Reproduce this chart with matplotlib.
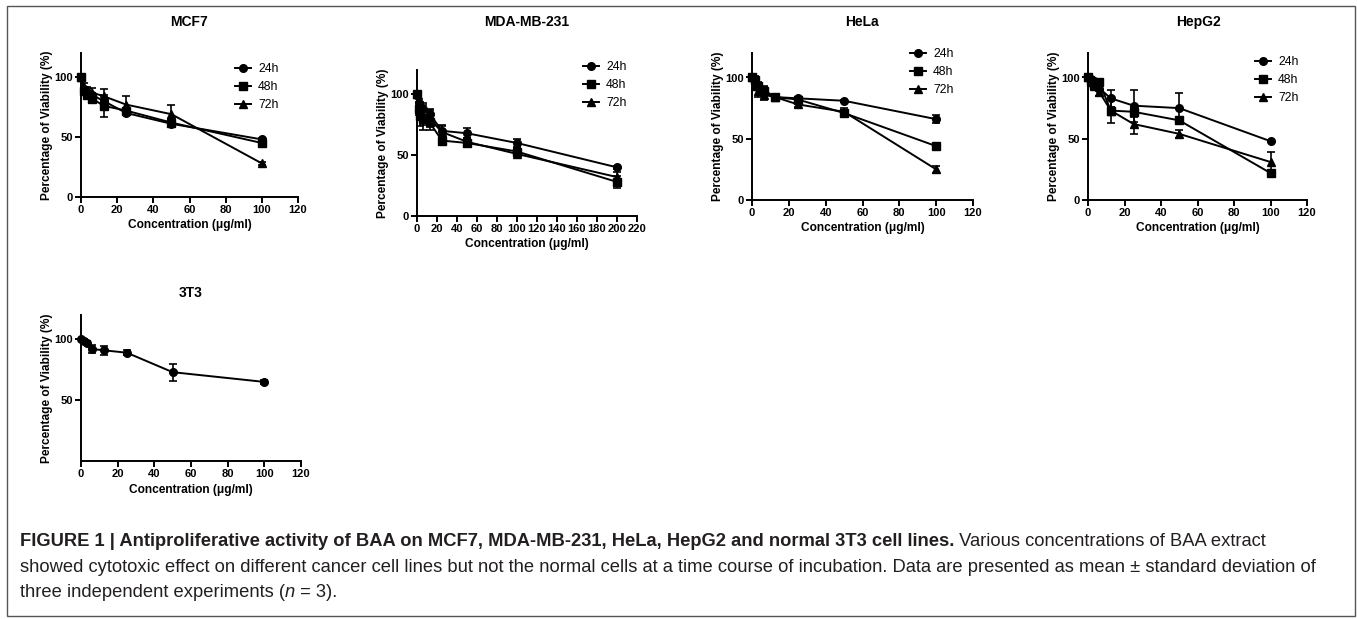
import matplotlib
matplotlib.use("Agg")
import matplotlib.pyplot as plt
from matplotlib.patches import FancyBboxPatch
from matplotlib.lines import Line2D
import numpy as np

plt.rcParams['font.family'] = ['Liberation Sans', 'DejaVu Sans']

W, H = 1357, 619

# ---------------- data ----------------
conc = [0, 1.5625, 3.125, 6.25, 12.5, 25, 50, 100]
conc_mda = [0, 1.5625, 3.125, 6.25, 12.5, 25, 50, 100, 200]

mcf7_24 = [100, 90, 87, 85, 80, 70, 61, 48]
mcf7_24_err = [0, 2, 3, 2, 3, 2, 2, 1]
mcf7_48 = [100, 88, 85, 82, 76, 72, 62, 45]
mcf7_48_err = [0, 3, 3, 3, 9, 2, 3, 3]
mcf7_72 = [100, 92, 89, 87, 84, 77, 69, 28]
mcf7_72_err = [0, 3, 3, 4, 6, 7, 8, 1]

mda_24 = [100, 93, 90, 88, 84, 70, 68, 60, 40]
mda_24_err = [0, 3, 4, 5, 4, 5, 4, 3, 1]
mda_48 = [100, 88, 82, 80, 77, 62, 60, 53, 28]
mda_48_err = [0, 5, 8, 9, 6, 3, 3, 3, 5]
mda_72 = [100, 90, 85, 83, 80, 69, 61, 51, 32]
mda_72_err = [0, 4, 6, 8, 7, 5, 3, 2, 4]

hela_24 = [100, 97, 93, 90, 84, 83, 81, 66]
hela_24_err = [0, 2, 2, 2, 1, 1, 1, 3]
hela_48 = [100, 98, 93, 89, 84, 82, 71, 44]
hela_48_err = [0, 3, 3, 4, 1, 1, 2, 1]
hela_72 = [100, 93, 89, 86, 84, 78, 72, 25]
hela_72_err = [0, 3, 5, 4, 1, 2, 3, 3]

hepg2_24 = [100, 99, 97, 91, 83, 77, 75, 48]
hepg2_24_err = [0, 1, 1, 2, 7, 13, 12, 1]
hepg2_48 = [100, 97, 94, 96, 73, 72, 65, 22]
hepg2_48_err = [0, 2, 2, 2, 3, 4, 2, 1]
hepg2_72 = [100, 96, 93, 88, 73, 62, 54, 31]
hepg2_72_err = [0, 2, 2, 3, 10, 8, 3, 8]

t3_conc = [0, 1.5625, 3.125, 6.25, 12.5, 25, 50, 100]
t3_vals = [100, 99, 97, 92, 91, 89, 73, 65]
t3_err = [0, 1, 2, 3.5, 3.5, 2, 7, 1.5]

series_labels = ["24h", "48h", "72h"]
markers = ["o", "s", "^"]

fig = plt.figure(figsize=(W / 100, H / 100), dpi=100)

LBL = 8.6
TICK = 8.0

def px_axes(x0, x1, ytop, ybot):
    return fig.add_axes([x0 / W, 1 - ybot / H, (x1 - x0) / W, (ybot - ytop) / H])

def style_axes(ax, xmax, xstep, yticks):
    ax.set_xlim(0, xmax)
    ax.set_ylim(0, 120)
    ax.set_xticks(np.arange(0, xmax + 1, xstep))
    ax.set_yticks(yticks)
    for s in ["top", "right"]:
        ax.spines[s].set_visible(False)
    for s in ["left", "bottom"]:
        ax.spines[s].set_linewidth(1.4)
    ax.tick_params(direction="out", length=4, width=1.4, labelsize=TICK, pad=2)
    for lab in ax.get_xticklabels() + ax.get_yticklabels():
        lab.set_fontweight("bold")
    ax.set_xlabel("Concentration (μg/ml)", fontsize=LBL, fontweight="bold", labelpad=3)
    ax.set_ylabel("Percentage of Viability (%)", fontsize=LBL, fontweight="bold", labelpad=1)
    ax.patch.set_alpha(0)

def plot_series(ax, x, ys, errs):
    for y, e, m in zip(ys, errs, markers):
        ax.errorbar(x, y, yerr=e, color="black", marker=m, markersize=5.5,
                    linewidth=1.4, elinewidth=1.2, capsize=3, capthick=1.2,
                    clip_on=False)

def add_legend(ax, x, y):
    handles = [Line2D([], [], color="black", marker=m, markersize=5.5, linewidth=1.4)
               for m in markers]
    ax.legend(handles, series_labels, loc="upper left", bbox_to_anchor=(x / W, 1 - y / H),
              bbox_transform=fig.transFigure, frameon=False, fontsize=8.8,
              handlelength=1.3, handletextpad=0.6, labelspacing=0.5,
              borderaxespad=0, borderpad=0)

# MCF7
ax1 = px_axes(81, 298, 53, 197)
plot_series(ax1, conc, [mcf7_24, mcf7_48, mcf7_72], [mcf7_24_err, mcf7_48_err, mcf7_72_err])
style_axes(ax1, 120, 20, [0, 50, 100])
add_legend(ax1, 235, 63)
fig.text(189 / W, 1 - 22 / H, "MCF7", ha="center", va="center", fontsize=10, fontweight="bold")

# MDA-MB-231
ax2 = px_axes(417, 637, 70, 216)
plot_series(ax2, conc_mda, [mda_24, mda_48, mda_72], [mda_24_err, mda_48_err, mda_72_err])
style_axes(ax2, 220, 20, [0, 50, 100])
add_legend(ax2, 583, 61)
fig.text(527 / W, 1 - 22 / H, "MDA-MB-231", ha="center", va="center", fontsize=10, fontweight="bold")

# HeLa
ax3 = px_axes(752, 973, 53, 200)
plot_series(ax3, conc, [hela_24, hela_48, hela_72], [hela_24_err, hela_48_err, hela_72_err])
style_axes(ax3, 120, 20, [0, 50, 100])
add_legend(ax3, 910, 48)
fig.text(862 / W, 1 - 22 / H, "HeLa", ha="center", va="center", fontsize=10, fontweight="bold")

# HepG2
ax4 = px_axes(1088, 1307, 53, 200)
plot_series(ax4, conc, [hepg2_24, hepg2_48, hepg2_72], [hepg2_24_err, hepg2_48_err, hepg2_72_err])
style_axes(ax4, 120, 20, [0, 50, 100])
add_legend(ax4, 1255, 56)
fig.text(1198 / W, 1 - 22 / H, "HepG2", ha="center", va="center", fontsize=10, fontweight="bold")

# 3T3
ax5 = px_axes(81, 301, 315, 461)
ax5.errorbar(t3_conc, t3_vals, yerr=t3_err, color="black", marker="o", markersize=5.5,
             linewidth=1.4, elinewidth=1.2, capsize=3, capthick=1.2, clip_on=False)
style_axes(ax5, 120, 20, [50, 100])
fig.text(191 / W, 1 - 293 / H, "3T3", ha="center", va="center", fontsize=10, fontweight="bold")

# border
border = FancyBboxPatch((7 / W, 3 / H), (1355 - 7) / W, (616 - 6) / H,
                        boxstyle="square,pad=0", transform=fig.transFigure,
                        fill=False, edgecolor="#555555", linewidth=1.0)
fig.patches.append(border)

# caption
renderer = fig.canvas.get_renderer()
cap_size = 13.2
cap_color = "#231f20"

def write_segments(x, y, segs):
    for txt, kw in segs:
        t = fig.text(x / W, 1 - y / H, txt, ha="left", va="baseline",
                     fontsize=cap_size, color=cap_color, **kw)
        bb = t.get_window_extent(renderer)
        x += bb.width

write_segments(20, 546, [
    ("FIGURE 1 | Antiproliferative activity of BAA on MCF7, MDA-MB-231, HeLa, HepG2 and normal 3T3 cell lines.", {"fontweight": "bold"}),
    (" Various concentrations of BAA extract", {}),
])
write_segments(20, 572, [
    ("showed cytotoxic effect on different cancer cell lines but not the normal cells at a time course of incubation. Data are presented as mean ± standard deviation of", {}),
])
write_segments(20, 597, [
    ("three independent experiments (", {}),
    ("n", {"style": "italic"}),
    (" = 3).", {}),
])

fig.savefig("out.png", dpi=100)
